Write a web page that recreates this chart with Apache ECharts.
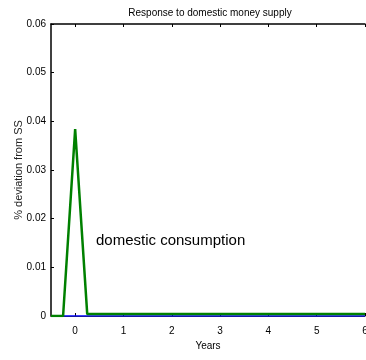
<!DOCTYPE html>
<html><head><meta charset="utf-8">
<script src="https://cdn.jsdelivr.net/npm/echarts@6/dist/echarts.min.js"></script>
<style>html,body{margin:0;padding:0;background:#fff}#c{width:366px;height:360px}</style>
</head><body><div id="c"></div>
<script>
const years = [-0.5,-0.25,0,0.25,0.5,0.75,1,1.25,1.5,1.75,2,2.25,2.5,2.75,3,3.25,3.5,3.75,4,4.25,4.5,4.75,5,5.25,5.5,5.75,6];
const domesticConsumption = [0,0,0.0384,0.0004,0.0004,0.0004,0.0004,0.0004,0.0004,0.0004,0.0004,0.0004,0.0004,0.0004,0.0004,0.0004,0.0004,0.0004,0.0004,0.0004,0.0004,0.0004,0.0004,0.0004,0.0004,0.0004,0.0004];
const blueSeries = [0,0,0,0,0,0,0,0,0,0,0,0,0,0,0,0,0,0,0,0,0,0,0,0,0,0,0];
const yTicks = [0,0.01,0.02,0.03,0.04,0.05,0.06];
const xTicks = [0,1,2,3,4,5,6];
const title = "Response to domestic money supply";
const yName = "% deviation from SS";
const xName = "Years";
const annotation = "domestic consumption";

const pair = (xs, ys) => xs.map((x, i) => [x, ys[i]]);
const font = "Liberation Sans";
const narrow = "'Liberation Sans Narrow', 'Arial Narrow', 'Liberation Sans'";
const chart = echarts.init(document.getElementById('c'), null, {renderer: 'canvas'});
chart.setOption({
  animation: false,
  backgroundColor: '#fff',
  title: {text: title, left: 205, top: 3, textAlign: 'center',
    textStyle: {fontFamily: narrow, fontSize: 10, fontWeight: 'normal', color: '#000'}},
  grid: {left: 51, top: 24, right: 1, bottom: 44, containLabel: false, outerBoundsMode: 'none'},
  xAxis: [{
    type: 'value', min: -0.5, max: 6, position: 'bottom',
    name: xName, nameLocation: 'middle', nameGap: 25,
    nameTextStyle: {fontFamily: narrow, fontSize: 10, color: '#000'},
    axisLine: {show: true, onZero: false, lineStyle: {color: '#333', width: 1}},
    axisTick: {show: true, inside: true, length: 3, lineStyle: {color: '#000'},
      customValues: xTicks},
    axisLabel: {fontFamily: font, fontSize: 10, color: '#000', margin: 10,
      customValues: xTicks, showMinLabel: true, showMaxLabel: true},
    splitLine: {show: false}
  }, {
    type: 'value', min: -0.5, max: 6, position: 'top',
    axisLine: {show: true, onZero: false, lineStyle: {color: '#000', width: 1.5}},
    axisTick: {show: true, inside: true, length: 3, lineStyle: {color: '#000'}, customValues: xTicks},
    axisLabel: {show: false},
    splitLine: {show: false}
  }],
  yAxis: [{
    type: 'value', min: 0, max: 0.06, interval: 0.01,
    name: yName, nameLocation: 'middle', nameGap: 27, nameRotate: 90, nameMoveOverlap: false,
    nameTextStyle: {fontFamily: font, fontSize: 11, color: '#222'},
    axisLine: {show: true, onZero: false, lineStyle: {color: '#000', width: 1.5}},
    axisTick: {show: true, inside: true, length: 3, lineStyle: {color: '#000'}},
    axisLabel: {fontFamily: narrow, fontSize: 10, color: '#000', margin: 5,
      formatter: v => yTicks.includes(+v.toFixed(2)) ? String(+v.toFixed(2)) : ''},
    splitLine: {show: false}
  }],
  series: [{
    type: 'line', data: pair(years, blueSeries), symbol: 'none', xAxisIndex: 0,
    lineStyle: {color: '#0000ff', width: 1.5}, z: 2
  }, {
    type: 'line', data: pair(years, domesticConsumption), symbol: 'none', xAxisIndex: 0,
    lineStyle: {color: '#008000', width: 2.5}, z: 3
  }],
  graphic: [{
    type: 'text', left: 96, top: 233,
    style: {text: annotation, fontFamily: font, fontSize: 15, fill: '#000'}
  }]
});
</script></body></html>
